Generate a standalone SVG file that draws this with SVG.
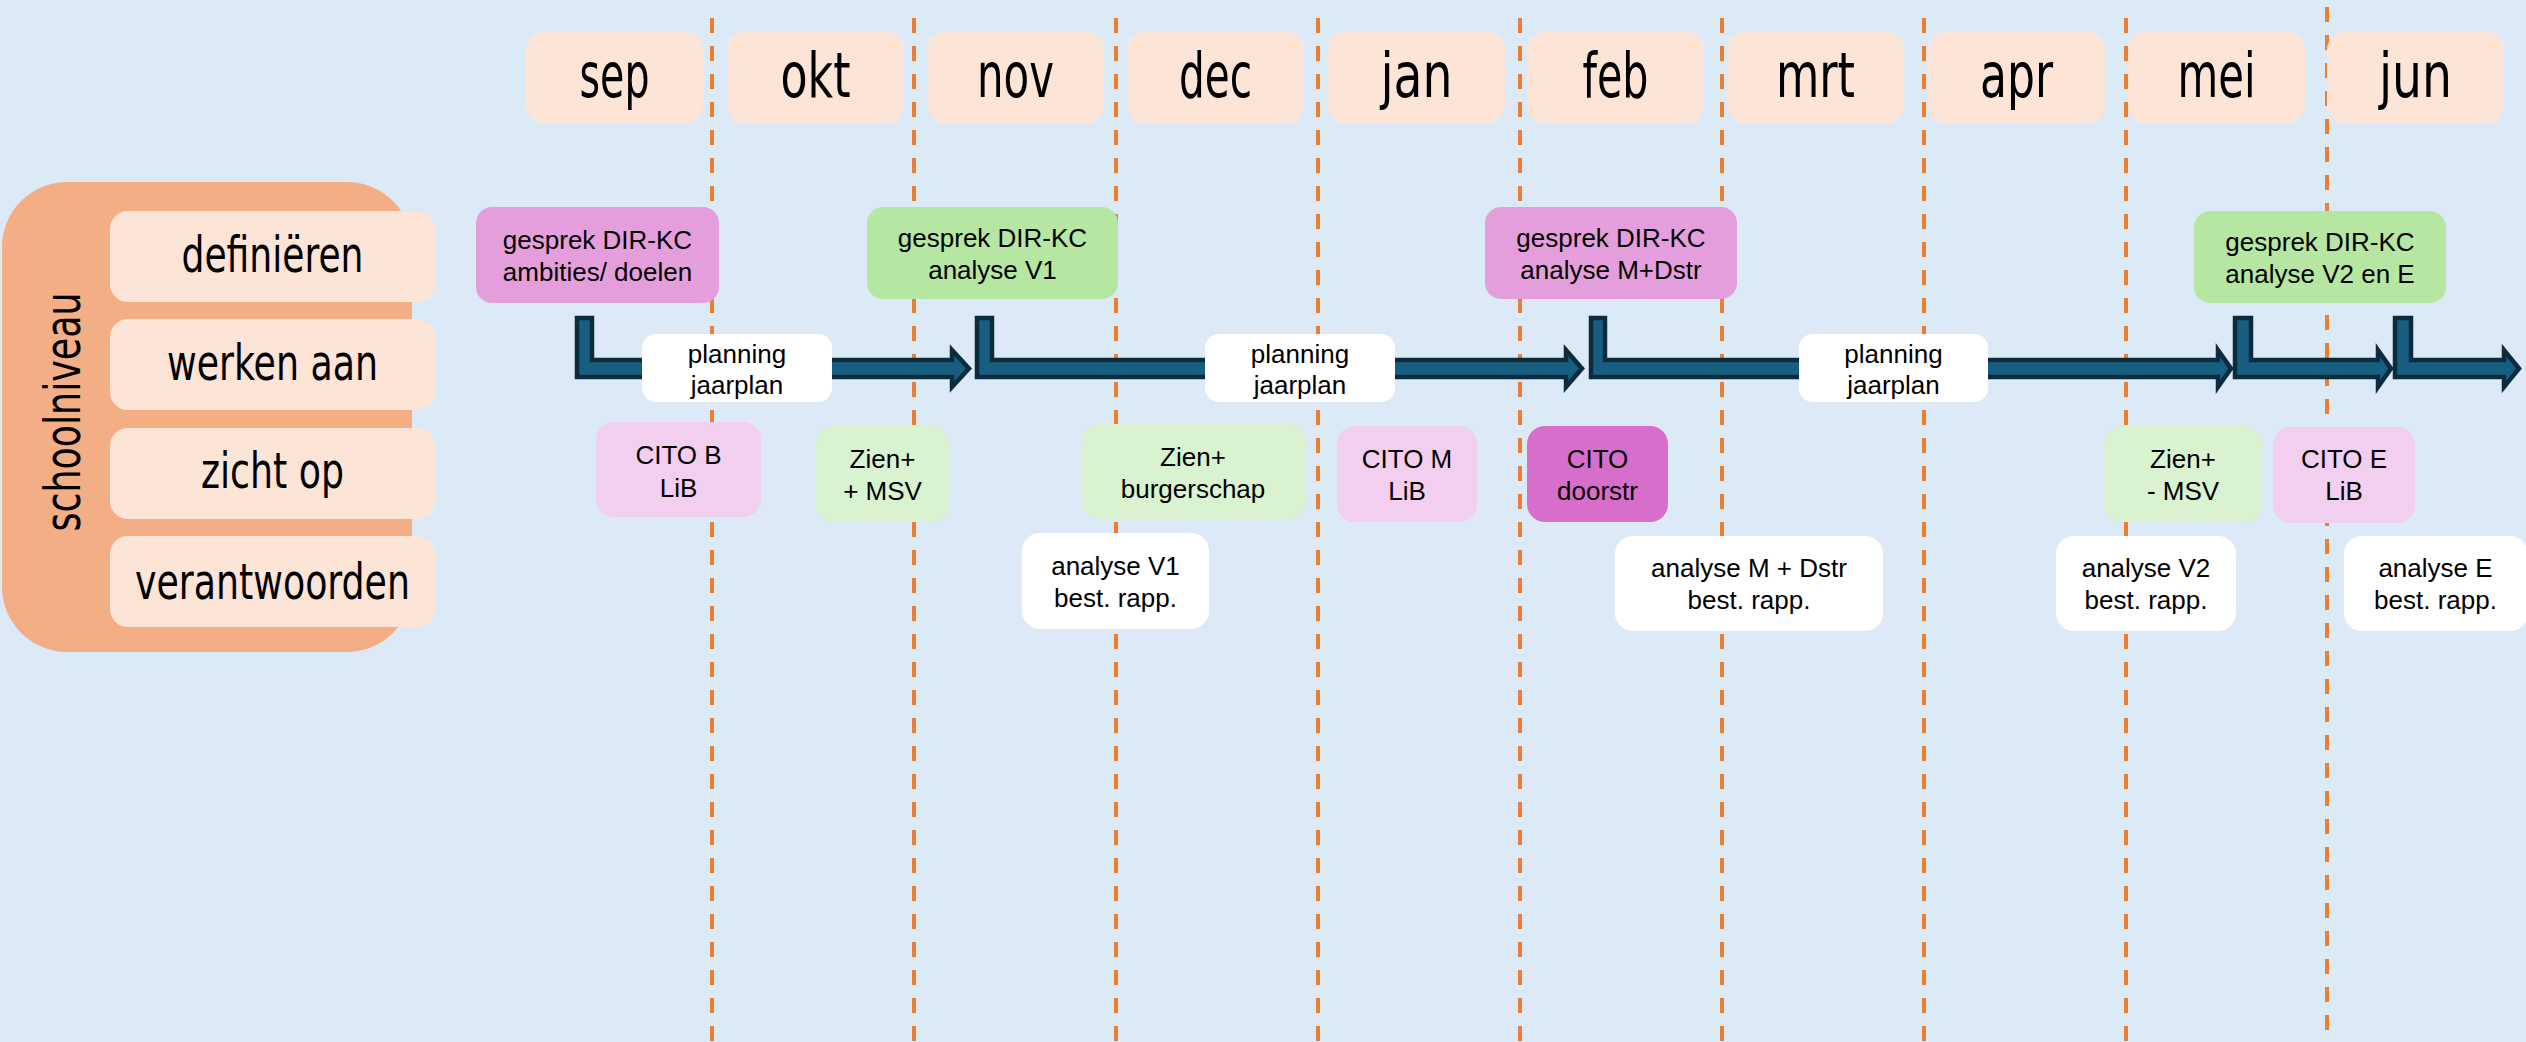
<svg xmlns="http://www.w3.org/2000/svg" width="2526" height="1042" viewBox="0 0 2526 1042">
<style>
.bg{fill:#DCEAF7}
.dash{stroke:#ED7D31;stroke-width:4;stroke-dasharray:15 13;fill:none}
.month{fill:#FCE4D6}
.mt{font-family:"DejaVu Sans Condensed","DejaVu Sans",sans-serif;font-size:62px;fill:#000;text-anchor:middle}
.lt{font-family:"DejaVu Sans Condensed","DejaVu Sans",sans-serif;font-size:49px;fill:#000;text-anchor:middle}
.outer{fill:#F4AE86}
.t{font-family:"Liberation Sans",Arial,sans-serif;font-size:26px;fill:#000;text-anchor:middle}
.pink{fill:#E49EDC}
.green{fill:#B5E6A2}
.lpink{fill:#F2CEEF}
.lgreen{fill:#D9F2D0}
.dpink{fill:#D86ECC}
.white{fill:#FFFFFF}
.arrow{fill:#175E80;stroke:#0C2B3C;stroke-width:4.5;stroke-linejoin:miter}
</style>
<rect class="bg" x="0" y="0" width="2526" height="1042"/>

<g id="gridlines">
<line class="dash" x1="712" y1="18" x2="712" y2="1042"/>
<line class="dash" x1="914" y1="18" x2="914" y2="1042"/>
<line class="dash" x1="1116" y1="18" x2="1116" y2="1042"/>
<line class="dash" x1="1318" y1="18" x2="1318" y2="1042"/>
<line class="dash" x1="1520" y1="18" x2="1520" y2="1042"/>
<line class="dash" x1="1722" y1="18" x2="1722" y2="1042"/>
<line class="dash" x1="1924" y1="18" x2="1924" y2="1042"/>
<line class="dash" x1="2126" y1="18" x2="2126" y2="1042"/>
<line class="dash" x1="2327" y1="7" x2="2327" y2="1042"/>
</g>

<g id="months">
<g id="m-sep"><rect class="month" x="526" y="32" width="177" height="91" rx="18"/><text class="mt" x="614.5" y="97" textLength="70" lengthAdjust="spacingAndGlyphs">sep</text></g>
<g id="m-okt"><rect class="month" x="727" y="32" width="177" height="91" rx="18"/><text class="mt" x="815.5" y="97" textLength="70" lengthAdjust="spacingAndGlyphs">okt</text></g>
<g id="m-nov"><rect class="month" x="927" y="32" width="177" height="91" rx="18"/><text class="mt" x="1015.5" y="97" textLength="77" lengthAdjust="spacingAndGlyphs">nov</text></g>
<g id="m-dec"><rect class="month" x="1127" y="32" width="177" height="91" rx="18"/><text class="mt" x="1215.5" y="97" textLength="73" lengthAdjust="spacingAndGlyphs">dec</text></g>
<g id="m-jan"><rect class="month" x="1328" y="32" width="177" height="91" rx="18"/><text class="mt" x="1416.5" y="97" textLength="72" lengthAdjust="spacingAndGlyphs">jan</text></g>
<g id="m-feb"><rect class="month" x="1527" y="32" width="177" height="91" rx="18"/><text class="mt" x="1615.5" y="97" textLength="66" lengthAdjust="spacingAndGlyphs">feb</text></g>
<g id="m-mrt"><rect class="month" x="1727" y="32" width="177" height="91" rx="18"/><text class="mt" x="1815.5" y="97" textLength="79" lengthAdjust="spacingAndGlyphs">mrt</text></g>
<g id="m-apr"><rect class="month" x="1928" y="32" width="177" height="91" rx="18"/><text class="mt" x="2016.5" y="97" textLength="73" lengthAdjust="spacingAndGlyphs">apr</text></g>
<g id="m-mei"><rect class="month" x="2128" y="32" width="177" height="91" rx="18"/><text class="mt" x="2216.5" y="97" textLength="78" lengthAdjust="spacingAndGlyphs">mei</text></g>
<g id="m-jun"><rect class="month" x="2327" y="32" width="177" height="91" rx="18"/><text class="mt" x="2415.5" y="97" textLength="73" lengthAdjust="spacingAndGlyphs">jun</text></g>
</g>

<g id="schoolniveau">
<rect class="outer" x="2" y="182" width="410" height="470" rx="65"/>
<text class="lt" transform="translate(80,412) rotate(-90)" x="0" y="0" textLength="239" lengthAdjust="spacingAndGlyphs">schoolniveau</text>
</g>
<g id="l-definieren"><rect class="month" x="110" y="211" width="325" height="91" rx="18"/><text class="lt" x="272.5" y="272" textLength="182" lengthAdjust="spacingAndGlyphs">definiëren</text></g>
<g id="l-werken"><rect class="month" x="110" y="319" width="325" height="91" rx="18"/><text class="lt" x="272.5" y="380" textLength="211" lengthAdjust="spacingAndGlyphs">werken aan</text></g>
<g id="l-zicht"><rect class="month" x="110" y="428" width="325" height="91" rx="18"/><text class="lt" x="272.5" y="488" textLength="143" lengthAdjust="spacingAndGlyphs">zicht op</text></g>
<g id="l-verantwoorden"><rect class="month" x="110" y="536" width="325" height="91" rx="18"/><text class="lt" x="272.5" y="599" textLength="275" lengthAdjust="spacingAndGlyphs">verantwoorden</text></g>

<g id="connectors">
<polygon class="arrow" points="577,318 592,318 592,360 952,360 952,350 969,368.5 952,387 952,377 577,377"/>
<polygon class="arrow" points="977,318 992,318 992,360 1566,360 1566,350 1582,368.5 1566,387 1566,377 977,377"/>
<polygon class="arrow" points="1591,318 1605,318 1605,360 2218,360 2218,350 2231,368.5 2218,387 2218,377 1591,377"/>
<polygon class="arrow" points="2235,318 2251,318 2251,360 2378,360 2378,350 2391,368.5 2378,387 2378,377 2235,377"/>
<polygon class="arrow" points="2395,318 2411,318 2411,360 2504,360 2504,350 2519,368.5 2504,387 2504,377 2395,377"/>
</g>

<g id="g1"><rect class="pink" x="476" y="207" width="243" height="96" rx="16"/><text class="t" x="597.5" y="249">gesprek DIR-KC</text><text class="t" x="597.5" y="281">ambities/ doelen</text></g>
<g id="g2"><rect class="green" x="867" y="207" width="251" height="92" rx="16"/><text class="t" x="992.5" y="247">gesprek DIR-KC</text><text class="t" x="992.5" y="279">analyse V1</text></g>
<g id="g3"><rect class="pink" x="1485" y="207" width="252" height="92" rx="16"/><text class="t" x="1611" y="247">gesprek DIR-KC</text><text class="t" x="1611" y="279">analyse M+Dstr</text></g>
<g id="g4"><rect class="green" x="2194" y="211" width="252" height="92" rx="16"/><text class="t" x="2320" y="251">gesprek DIR-KC</text><text class="t" x="2320" y="283">analyse V2 en E</text></g>

<g id="p1"><rect class="white" x="642" y="334" width="190" height="68" rx="14"/><text class="t" x="737" y="363">planning</text><text class="t" x="737" y="394">jaarplan</text></g>
<g id="p2"><rect class="white" x="1205" y="334" width="190" height="68" rx="14"/><text class="t" x="1300" y="363">planning</text><text class="t" x="1300" y="394">jaarplan</text></g>
<g id="p3"><rect class="white" x="1799" y="334" width="189" height="68" rx="14"/><text class="t" x="1893.5" y="363">planning</text><text class="t" x="1893.5" y="394">jaarplan</text></g>

<g id="c1"><rect class="lpink" x="596" y="422" width="165" height="95" rx="18"/><text class="t" x="678.5" y="464">CITO B</text><text class="t" x="678.5" y="497">LiB</text></g>
<g id="z1"><rect class="lgreen" x="816" y="426" width="133" height="96" rx="18"/><text class="t" x="882.5" y="468">Zien+</text><text class="t" x="882.5" y="500">+ MSV</text></g>
<g id="z2"><rect class="lgreen" x="1081" y="424" width="224" height="95" rx="18"/><text class="t" x="1193" y="466">Zien+</text><text class="t" x="1193" y="498">burgerschap</text></g>
<g id="c2"><rect class="lpink" x="1337" y="426" width="140" height="96" rx="18"/><text class="t" x="1407" y="468">CITO M</text><text class="t" x="1407" y="500">LiB</text></g>
<g id="c3"><rect class="dpink" x="1527" y="426" width="141" height="96" rx="18"/><text class="t" x="1597.5" y="468">CITO</text><text class="t" x="1597.5" y="500">doorstr</text></g>
<g id="z3"><rect class="lgreen" x="2104" y="426" width="158" height="96" rx="18"/><text class="t" x="2183" y="468">Zien+</text><text class="t" x="2183" y="500">- MSV</text></g>
<g id="c4"><rect class="lpink" x="2273" y="427" width="142" height="96" rx="18"/><text class="t" x="2344" y="468">CITO E</text><text class="t" x="2344" y="500">LiB</text></g>

<g id="a1"><rect class="white" x="1022" y="533" width="187" height="96" rx="18"/><text class="t" x="1115.5" y="575">analyse V1</text><text class="t" x="1115.5" y="607">best. rapp.</text></g>
<g id="a2"><rect class="white" x="1615" y="536" width="268" height="95" rx="18"/><text class="t" x="1749" y="577">analyse M + Dstr</text><text class="t" x="1749" y="609">best. rapp.</text></g>
<g id="a3"><rect class="white" x="2056" y="536" width="180" height="95" rx="18"/><text class="t" x="2146" y="577">analyse V2</text><text class="t" x="2146" y="609">best. rapp.</text></g>
<g id="a4"><rect class="white" x="2344" y="536" width="184" height="95" rx="18"/><text class="t" x="2435.5" y="577">analyse E</text><text class="t" x="2435.5" y="609">best. rapp.</text></g>
</svg>
